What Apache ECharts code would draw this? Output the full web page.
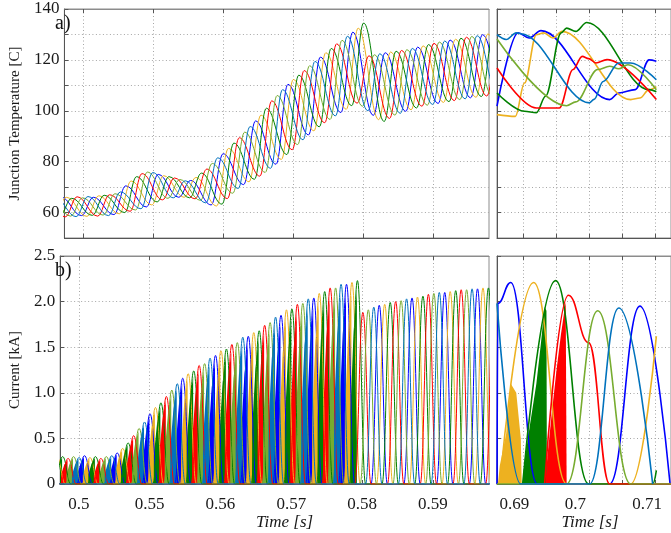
<!DOCTYPE html>
<html>
<head>
<meta charset="utf-8">
<script src="https://cdn.jsdelivr.net/npm/echarts@6/dist/echarts.min.js"></script>
<style>
  html, body { margin: 0; padding: 0; background: #fff; }
  #chart { width: 671px; height: 533px; }
</style>
</head>
<body>
<div id="chart"></div>
<script>
// phase order as it repeats in the plots
const phaseColors = ['#0000ff', '#edb120', '#008000', '#ff0000', '#77ac30', '#0072bd']

// left panels: every current hump in sequence (phase = (k + 1) % 6)
const peakTime = [
  0.53232, 0.53309, 0.53386, 0.53463, 0.53540, 0.53617,
  0.53694, 0.53771, 0.53848, 0.53925, 0.54003, 0.54080,
  0.54157, 0.54234, 0.54311, 0.54388, 0.54465, 0.54542,
  0.54619, 0.54696, 0.54774, 0.54851, 0.54928, 0.55005,
  0.55082, 0.55159, 0.55236, 0.55313, 0.55390, 0.55467,
  0.55544, 0.55622, 0.55699, 0.55776, 0.55853, 0.55930,
  0.56007, 0.56084, 0.56161, 0.56238, 0.56315, 0.56393,
  0.56470, 0.56547, 0.56624, 0.56701, 0.56778, 0.56855,
  0.56932, 0.57009, 0.57086, 0.57163, 0.57240, 0.57318,
  0.57395, 0.57472, 0.57549, 0.57626, 0.57703, 0.57780,
  0.57857, 0.57934, 0.58011, 0.58088, 0.58165, 0.58242,
  0.58319, 0.58397, 0.58474, 0.58551, 0.58628, 0.58705,
  0.58782, 0.58859, 0.58936, 0.59013, 0.59090, 0.59167,
  0.59244, 0.59322, 0.59399, 0.59476, 0.59553, 0.59630,
  0.59707, 0.59784, 0.59861, 0.59938, 0.60015, 0.60092,
  0.60169, 0.60247, 0.60324
]
const peakCurrent = [
  0.29, 0.30, 0.28, 0.31, 0.29, 0.30,
  0.29, 0.30, 0.28, 0.30, 0.29, 0.31,
  0.29, 0.30, 0.28, 0.30, 0.31, 0.34,
  0.39, 0.45, 0.53, 0.61, 0.68, 0.77,
  0.84, 0.89, 0.96, 1.03, 1.10, 1.16,
  1.21, 1.24, 1.30, 1.32, 1.38, 1.41,
  1.46, 1.48, 1.53, 1.55, 1.61, 1.62,
  1.66, 1.68, 1.74, 1.77, 1.83, 1.85,
  1.91, 1.92, 1.97, 1.98, 2.03, 2.04,
  2.09, 2.11, 2.15, 2.15, 2.19, 2.19,
  2.21, 2.23, 1.88, 1.91, 1.94, 1.96,
  1.97, 1.99, 2.00, 2.01, 2.03, 2.04,
  2.05, 2.06, 2.08, 2.09, 2.10, 2.10,
  2.11, 2.12, 2.13, 2.13, 2.14, 2.14,
  2.15, 2.15, 2.16, 2.16, 2.15, 2.16,
  2.17, 2.16, 2.17
]
// junction temperature of the same phase when it starts heating / at the top of its swing
const tempLow = [
  58.7, 58.4, 58.9, 58.5, 58.8, 58.6,
  58.5, 58.8, 58.3, 58.6, 58.4, 58.8,
  58.5, 58.9, 58.6, 59.0, 58.8, 59.2,
  59.5, 60.0, 60.5, 61.0, 61.5, 62.2,
  63.0, 64.2, 65.0, 65.6, 65.8, 66.0,
  66.0, 65.8, 65.4, 64.8, 63.8, 63.0,
  62.6, 63.3, 65.5, 67.6, 69.5, 71.0,
  72.1, 73.1, 74.3, 75.8, 77.4, 79.0,
  80.9, 82.8, 84.7, 86.7, 88.6, 90.5,
  92.1, 93.7, 95.3, 96.6, 98.0, 99.3,
  100.6, 102.0, 103.0, 101.8, 100.0, 98.2,
  96.5, 95.8, 97.0, 98.3, 99.0, 99.8,
  100.4, 101.1, 101.8, 102.2, 102.5, 102.9,
  103.3, 103.6, 104.0, 104.4, 104.7, 105.1,
  105.3, 105.6, 105.8, 106.0, 106.1, 106.3,
  106.4, 106.5, 106.6
]
const tempHigh = [
  65.8, 66.2, 65.9, 66.3, 65.7, 66.1,
  66.0, 65.6, 66.2, 65.8, 66.3, 66.0,
  66.6, 66.8, 67.0, 67.4, 68.1, 70.5,
  72.4, 74.1, 75.3, 75.9, 75.7, 75.0,
  74.5, 74.1, 73.6, 73.0, 72.5, 72.6,
  73.8, 75.5, 77.1, 79.3, 81.5, 83.1,
  85.2, 87.3, 89.4, 91.6, 93.8, 96.0,
  98.3, 101.0, 103.9, 106.0, 108.3, 110.4,
  112.3, 114.0, 115.8, 117.7, 119.4, 121.1,
  122.8, 124.5, 126.3, 127.7, 129.3, 130.9,
  132.5, 134.5, 121.6, 122.0, 122.4, 122.8,
  123.1, 123.4, 123.7, 124.0, 124.5, 125.0,
  125.5, 126.0, 126.5, 127.0, 127.4, 127.8,
  128.1, 128.5, 128.9, 129.2, 129.5, 129.9,
  130.2, 130.4, 130.6, 130.8, 130.9, 131.0,
  131.1, 131.2, 131.3
]
// chopped (filled) conduction ends here
const choppingEnd = 0.5797

// right panels, one list per phase: [time, value]
const rightCurrent = [
  [[0.68597, 0], [0.68611, 1.98], [0.68806, 2.21], [0.69208, 0], [0.70306, 0], [0.70764, 1.95], [0.71222, 0]],
  [[0.68639, 0], [0.69153, 2.21], [0.69653, 0], [0.70625, 0], [0.71014, 1.62]],
  [[0.68986, 0], [0.69486, 2.23], [0.69986, 0], [0.70958, 0], [0.71014, 0.15]],
  [[0.69319, 0], [0.69681, 2.07], [0.69986, 1.55], [0.70306, 0], [0.71278, 0]],
  [[0.68597, 0], [0.69653, 0], [0.70125, 1.90], [0.70625, 0], [0.71278, 0]],
  [[0.68597, 1.98], [0.68958, 0], [0.70000, 0], [0.70444, 1.93], [0.70958, 0]]
]
const rightFill = [
  [],
  [[0.68611, 0], [0.68639, 0.2], [0.68736, 0.55], [0.68806, 1.1], [0.68889, 1.0], [0.68958, 0.5], [0.68972, 0]],
  [[0.68986, 0], [0.69014, 0.25], [0.69097, 0.65], [0.69194, 1.1], [0.69264, 1.55], [0.69319, 1.94], [0.69347, 1.9], [0.69354, 0]],
  [[0.69333, 0], [0.69361, 0.3], [0.69431, 0.8], [0.69500, 1.25], [0.69569, 1.65], [0.69639, 2.0], [0.69653, 0]],
  [],
  []
]
const rightTemp = [
  [[0.68597, 101.8], [0.68917, 130.6], [0.69083, 128.6], [0.69264, 131.5], [0.70306, 104.4], [0.70444, 107], [0.70694, 108.3], [0.70903, 120], [0.71014, 119.5]],
  [[0.68597, 98.5], [0.68875, 97.8], [0.69014, 110.9], [0.69194, 129.9], [0.69306, 130.6], [0.69444, 128.6], [0.69583, 131.2], [0.70625, 104.4], [0.70764, 105], [0.70903, 108.3], [0.71014, 109.5]],
  [[0.68597, 107], [0.69014, 99.8], [0.69194, 99.2], [0.69333, 105.7], [0.69569, 130.6], [0.69653, 132.5], [0.69792, 131.2], [0.69958, 134.7], [0.70903, 108.3], [0.71014, 107.5]],
  [[0.68597, 116.8], [0.69194, 101.1], [0.69542, 101.1], [0.69750, 116.2], [0.69889, 121.4], [0.69986, 120.5], [0.70097, 118.8], [0.70264, 120.1], [0.71014, 104.4]],
  [[0.68597, 128.2], [0.69653, 102], [0.69792, 103.5], [0.70125, 116.2], [0.70306, 117.5], [0.70444, 116.5], [0.70583, 118.1], [0.71014, 108.3]],
  [[0.68597, 129.9], [0.68736, 128], [0.68889, 130.6], [0.68958, 130.3], [0.70000, 103.1], [0.70069, 104.5], [0.70208, 111.5], [0.70444, 118.8], [0.70625, 118.8], [0.71014, 112.2]]
]

// axis ticks / labels
const leftTicks = [0.54, 0.55, 0.56, 0.57, 0.58, 0.59]
const leftTickLabels = ['0.5', '0.55', '0.56', '0.57', '0.58', '0.59']
const rightTicks = [0.69, 0.695, 0.70, 0.705, 0.71]
const rightLabelPos = [0.68861, 0.69785, 0.70875]
const rightTickLabels = ['0.69', '0.7', '0.71']
const tempLabels = [60, 80, 100, 120, 140]
const currentLabelPos = [0, 0.5, 1.0, 1.5, 2.0, 2.5]
const currentLabels = ['0', '0.5', '1.0', '1.5', '2.0', '2.5']

const SERIF = 'Liberation Serif'
const STEP = (peakTime[peakTime.length - 1] - peakTime[0]) / (peakTime.length - 1)
const HALF = 1.5 * STEP

function labelFrom(list, values) {
  return function(v) {
    let best = 0
    values.forEach((x, i) => { if (Math.abs(x - v) < Math.abs(values[best] - v)) best = i })
    return list[best]
  }
}

// build the per-phase polylines of the left panels
const leftCur = [[], [], [], [], [], []]
const leftFill = [[], [], [], [], [], []]
const leftTemp = [[], [], [], [], [], []]
peakTime.forEach((t, k) => {
  const p = (k + 1) % 6
  const a = peakCurrent[k]
  leftCur[p].push([t - HALF, 0], [t, a], [t + HALF, 0])
  if (t < choppingEnd) {
    leftFill[p].push(
      [t - 1.3 * STEP, 0], [t - 1.3 * STEP, 0.35 * a],
      [t - 0.7 * STEP, 0.75 * a], [t - 0.1 * STEP, 0.95 * a], [t - 0.1 * STEP, 0])
  }
  leftTemp[p].push([t - 1.3 * STEP, tempLow[k]], [t + 0.9 * STEP, tempHigh[k]])
})

const series = []
function line(x, y, data, color, width, smooth) {
  series.push({
    type: 'line', xAxisIndex: x, yAxisIndex: y, data: data,
    showSymbol: false, silent: true, z: 3,
    smooth: smooth, smoothMonotone: 'x',
    lineStyle: { color: color, width: width }
  })
}
function fill(x, y, data, color) {
  if (!data.length) return
  series.push({
    type: 'line', xAxisIndex: x, yAxisIndex: y, data: data,
    showSymbol: false, silent: true, z: 2,
    lineStyle: { width: 0 },
    areaStyle: { color: color, opacity: 1 }
  })
}
for (let p = 0; p < 6; p++) {
  fill(2, 2, leftFill[p], phaseColors[p])
  fill(3, 3, rightFill[p], phaseColors[p])
}
for (let p = 0; p < 6; p++) {
  line(0, 0, leftTemp[p], phaseColors[p], 1, 0.4)
  line(2, 2, leftCur[p], phaseColors[p], 1, 0.45)
  line(1, 1, rightTemp[p], phaseColors[p], 1.6, 0.35)
  line(3, 3, rightCurrent[p], phaseColors[p], 1.6, 0.45)
}

const gridLine = { show: true, lineStyle: { type: [1, 2.5], color: '#a6a6a6', width: 1 } }
const tickText = { fontFamily: SERIF, fontSize: 17, color: '#1a1a1a' }

function xAxis(grid, left, withLabels) {
  const ticks = left ? leftTicks : rightTicks
  return {
    type: 'value', gridIndex: grid,
    min: left ? 0.53736 : 0.68597,
    max: left ? 0.59792 : 0.71236,
    axisLine: { lineStyle: { color: '#555' } },
    axisTick: { inside: true, length: 4, customValues: ticks, lineStyle: { color: '#555' } },
    splitLine: gridLine,
    axisLabel: withLabels ? Object.assign({
      customValues: left ? leftTicks : rightLabelPos,
      margin: 12,
      formatter: left ? labelFrom(leftTickLabels, leftTicks) : labelFrom(rightTickLabels, rightLabelPos)
    }, tickText) : { show: false },
    name: withLabels ? 'Time [s]' : '',
    nameLocation: 'middle', nameGap: 29,
    nameTextStyle: { fontFamily: SERIF, fontSize: 17, fontStyle: 'italic', color: '#1a1a1a',
      padding: left ? [0, 0, 0, 20] : [0, 0, 0, 12] }
  }
}
function topAxis(grid, left) {
  return {
    type: 'value', gridIndex: grid, position: 'top',
    min: left ? 0.53736 : 0.68597,
    max: left ? 0.59792 : 0.71236,
    axisLine: { lineStyle: { color: '#8c8c8c' } },
    axisTick: { inside: true, length: 4, customValues: left ? leftTicks : rightTicks, lineStyle: { color: '#555' } },
    splitLine: { show: false },
    axisLabel: { show: false }
  }
}
function yAxis(grid, temp, withLabels) {
  return {
    type: 'value', gridIndex: grid,
    min: temp ? 50 : 0, max: temp ? 140 : 2.5, interval: temp ? 10 : 0.5,
    axisLine: { show: true, lineStyle: { color: '#555' } },
    axisTick: { show: true, inside: true, length: 4, lineStyle: { color: '#555' } },
    splitLine: gridLine,
    axisLabel: withLabels ? Object.assign({
      customValues: temp ? tempLabels : currentLabelPos,
      margin: 5,
      formatter: temp ? (v => String(v)) : labelFrom(currentLabels, currentLabelPos)
    }, tickText) : { show: false },
    name: withLabels ? (temp ? 'Junction Temperature [C]' : 'Current [kA]') : '',
    nameLocation: 'middle', nameGap: 33,
    nameTextStyle: { fontFamily: SERIF, fontSize: 15, color: '#1a1a1a' }
  }
}

const chart = echarts.init(document.getElementById('chart'))
chart.setOption({
  animation: false,
  backgroundColor: '#fff',
  grid: [
    { left: 53, top: 9, width: 436, height: 229, show: true, borderColor: '#8c8c8c', borderWidth: 1 },
    { left: 497, top: 9, width: 190, height: 229, show: true, borderColor: '#8c8c8c', borderWidth: 1 },
    { left: 53, top: 256, width: 436, height: 228, show: true, borderColor: '#8c8c8c', borderWidth: 1 },
    { left: 497, top: 256, width: 190, height: 228, show: true, borderColor: '#8c8c8c', borderWidth: 1 }
  ],
  xAxis: [
    xAxis(0, true, false), xAxis(1, false, false), xAxis(2, true, true), xAxis(3, false, true),
    topAxis(0, true), topAxis(1, false), topAxis(2, true), topAxis(3, false)
  ],
  yAxis: [yAxis(0, true, true), yAxis(1, true, false), yAxis(2, false, true), yAxis(3, false, false)],
  graphic: [
    { type: 'text', left: 55, top: 14, style: { text: 'a)', font: '20px "Liberation Serif"', fill: '#111' }, z: 10 },
    { type: 'text', left: 55, top: 261, style: { text: 'b)', font: '20px "Liberation Serif"', fill: '#111' }, z: 10 }
  ],
  series: series
})
</script>
</body>
</html>
